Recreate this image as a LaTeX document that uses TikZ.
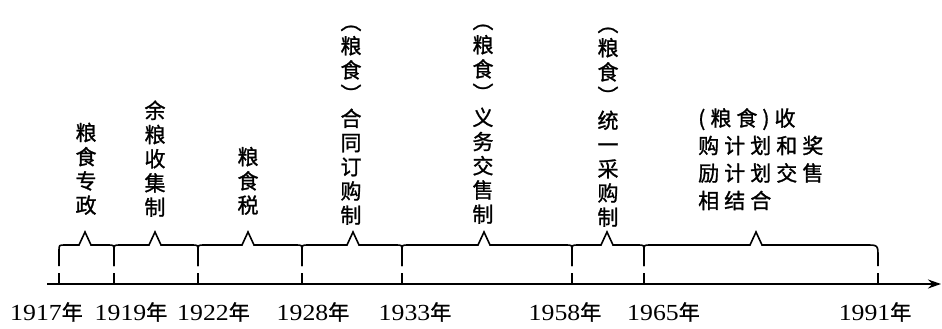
\documentclass[tikz,border=0pt]{standalone}
\usepackage{fontspec}
\setmainfont{Liberation Serif}[FakeStretch=1.12]
\newfontfamily\cjk{Noto Sans CJK SC}[FakeBold=1.2]
\newfontfamily\cjkwide{Noto Sans CJK SC}[LetterSpace=24,FakeBold=1.2]
\usetikzlibrary{arrows.meta}
\begin{document}
\begin{tikzpicture}[x=1pt,y=-1pt,
  axisline/.style={line width=1.8pt,-{Stealth[length=13pt,width=9pt]}},
  bracepath/.style={line width=1.6pt,line join=miter},
  tickline/.style={line width=1.6pt},
  vtext/.style={font=\cjk\fontsize{21}{24.2}\selectfont,align=center,inner sep=0pt,anchor=south},
  htext/.style={font=\cjkwide\fontsize{21}{27.5}\selectfont,align=left,inner sep=0pt,anchor=north west},
  yearlabel/.style={font=\fontsize{23}{24}\selectfont,inner sep=0pt,anchor=base}]
\useasboundingbox (0,0) rectangle (942,329);
\newcommand{\nian}{{\cjk\fontsize{21}{24}\selectfont 年}}
% axis
\coordinate (axL) at (47,284);
\coordinate (axR) at (941,284);
\draw[axisline] (axL) -- (axR);
% ticks
\foreach \n/\x in {a/59,b/114,c/198,d/302,e/402,f/572,g/644,h/878}{
  \coordinate (t\n) at (\x,284);
  \draw[tickline] (t\n) -- ++(0,-11);
}
% braces
\foreach \a/\b/\p in {59/114/85,114/198/155,198/302/248,302/402/353,402/572/484,572/644/607}{
  \draw[bracepath] (\a,266) -- (\a,251) .. controls (\a,245) .. (\a+6,245) -- (\p-6,245) -- (\p,232) -- (\p+6,245) -- (\b-6,245) .. controls (\b,245) .. (\b,251) -- (\b,266);
}
\draw[bracepath] (644,266) -- (644,251) .. controls (644,245) .. (650,245) -- (750,245) -- (756,232) -- (762,245) -- (866,245) .. controls (878,245) .. (878,257) -- (878,266);
% year labels
\node[yearlabel] (ya) at (46.5,320) {1917\nian};
\node[yearlabel] (yb) at (131,320) {1919\nian};
\node[yearlabel] (yc) at (213.5,320) {1922\nian};
\node[yearlabel] (yd) at (313,320) {1928\nian};
\node[yearlabel] (ye) at (415,320) {1933\nian};
\node[yearlabel] (yf) at (565,320) {1958\nian};
\node[yearlabel] (yg) at (663.5,320) {1965\nian};
\node[yearlabel] (yh) at (875,320) {1991\nian};
% policy labels
\node[vtext] (pa) at (86,215) {粮\\食\\专\\政};
\node[vtext] (pb) at (155,217) {余\\粮\\收\\集\\制};
\node[vtext] (pc) at (248,215) {粮\\食\\税};
\node[vtext] (pd) at (351,225) {︵\\粮\\食\\︶\\合\\同\\订\\购\\制};
\node[vtext] (pe) at (483,224) {︵\\粮\\食\\︶\\义\\务\\交\\售\\制};
\node[vtext] (pf) at (608,227) {︵\\粮\\食\\︶\\统\\一\\采\\购\\制};
\node[htext] (pg) at (698,108) {(粮食)收\\购计划和奖\\励计划交售\\相结合};
\end{tikzpicture}
\end{document}
